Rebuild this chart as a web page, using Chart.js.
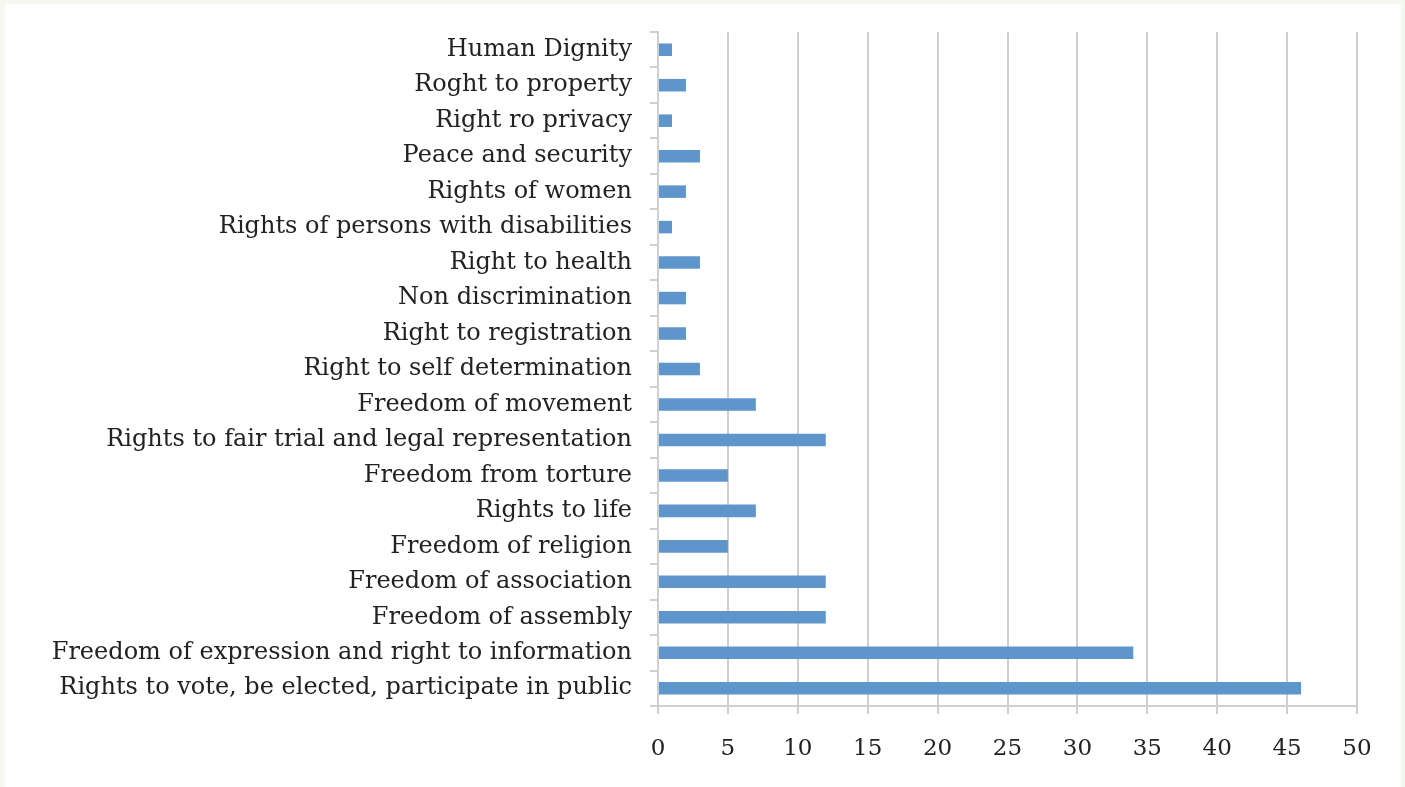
<!DOCTYPE html>
<html>
<head>
<meta charset="utf-8">
<script src="https://cdn.jsdelivr.net/npm/chart.js@4/dist/chart.umd.min.js"></script>
<style>
  html, body { margin: 0; padding: 0; background: #f5f8ef; }
  #wrap { position: absolute; left: 5px; top: 4px; width: 1396px; height: 783px; background: #fff; }
</style>
</head>
<body>
<div id="wrap"><canvas id="chart" width="1396" height="783"></canvas></div>
<script>
// Datos (de arriba hacia abajo)
const categorias = [
  "Human Dignity",
  "Roght to property",
  "Right ro privacy",
  "Peace and security",
  "Rights of women",
  "Rights of persons with disabilities",
  "Right to health",
  "Non discrimination",
  "Right to registration",
  "Right to self determination",
  "Freedom of movement",
  "Rights to fair trial and legal representation",
  "Freedom from torture",
  "Rights to life",
  "Freedom of religion",
  "Freedom of association",
  "Freedom of assembly",
  "Freedom of expression and right to information",
  "Rights to vote, be elected, participate in public"
];
const valores = [1, 2, 1, 3, 2, 1, 3, 2, 2, 3, 7, 12, 5, 7, 5, 12, 12, 34, 46];
const ejeX = { min: 0, max: 50, paso: 5 };

const fuente = "'DejaVu Serif', 'Liberation Serif', serif";
const gris = '#cfcfcf';

const ctx = document.getElementById('chart').getContext('2d');
new Chart(ctx, {
  type: 'bar',
  data: {
    labels: categorias,
    datasets: [{
      data: valores,
      backgroundColor: '#5e96cc',
      borderWidth: 0,
      barPercentage: 0.52,
      categoryPercentage: 0.68
    }]
  },
  options: {
    indexAxis: 'y',
    responsive: false,
    animation: false,
    plugins: { legend: { display: false }, tooltip: { enabled: false } },
    layout: { padding: { top: 28, right: 44, bottom: 0, left: 0 } },
    scales: {
      x: {
        min: ejeX.min,
        max: ejeX.max,
        ticks: {
          stepSize: ejeX.paso,
          color: '#222',
          font: { family: fuente, size: 23 },
          padding: 21
        },
        grid: { color: gris, lineWidth: 2, tickLength: 8, tickColor: gris },
        border: { color: gris, width: 2 },
        afterFit: s => { s.height = 81; }
      },
      y: {
        ticks: {
          color: '#222',
          font: { family: fuente, size: 24 },
          padding: 18,
          autoSkip: false
        },
        grid: { drawOnChartArea: false, color: gris, lineWidth: 2, tickLength: 8 },
        border: { color: gris, width: 2 },
        afterFit: s => { s.width = 653; s.paddingTop = 0; s.paddingBottom = 0; }
      }
    }
  }
});
</script>
</body>
</html>
